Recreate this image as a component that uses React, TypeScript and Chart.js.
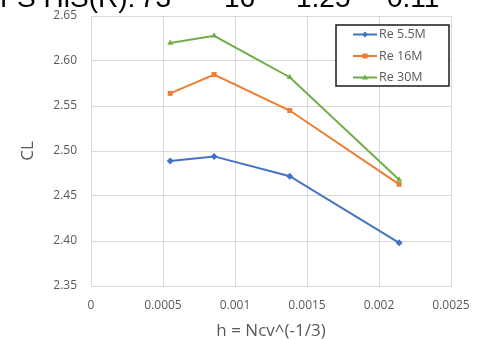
import React, { useEffect, useRef } from "react";
import { Chart, registerables } from "chart.js";

Chart.register(...registerables);

// ---- data ----
const hValues = [0.00055, 0.000855, 0.00138, 0.00214];
const seriesLabels = ["Re 5.5M", "Re 16M", "Re 30M"];
const re55 = [2.489, 2.494, 2.472, 2.398];
const re16 = [2.564, 2.585, 2.545, 2.463];
const re30 = [2.62, 2.628, 2.582, 2.468];
const xTicks = [0, 0.0005, 0.001, 0.0015, 0.002, 0.0025];
const yTicks = [2.35, 2.4, 2.45, 2.5, 2.55, 2.6, 2.65];
const xTitle = "h = Ncv^(-1/3)";
const yTitle = "CL";
const headerParts = ["FS HiS(R):", "73", "16", "1.25", "0.11"];
const headerLefts = [0, 140, 224, 296, 387];

const COLORS = ["#4472C4", "#ED7D31", "#70AD47"];
const MARKERS = ["rectRot", "rect", "triangle"];
const FONT = "'Open Sans', 'Noto Sans', sans-serif";
const TXT = "#595959";
const GRID = "#d9d9d9";

function drawMarker(ctx: CanvasRenderingContext2D, style: string, x: number, y: number, r: number) {
  ctx.beginPath();
  if (style === "rectRot") {
    ctx.moveTo(x, y - r);
    ctx.lineTo(x + r, y);
    ctx.lineTo(x, y + r);
    ctx.lineTo(x - r, y);
  } else if (style === "rect") {
    ctx.rect(x - r * 0.85, y - r * 0.85, r * 1.7, r * 1.7);
  } else {
    ctx.moveTo(x, y - r);
    ctx.lineTo(x + r, y + r * 0.7);
    ctx.lineTo(x - r, y + r * 0.7);
  }
  ctx.closePath();
  ctx.fill();
}

const legendBox = {
  id: "legendBox",
  afterDraw(chart: any) {
    const { ctx, chartArea } = chart;
    const w = 113;
    const h = 61;
    const x = chartArea.right - 2 - w;
    const y = chartArea.top + 9;
    ctx.save();
    ctx.fillStyle = "#ffffff";
    ctx.fillRect(x, y, w, h);
    ctx.strokeStyle = "#1a1a1a";
    ctx.lineWidth = 1.5;
    ctx.strokeRect(x, y, w, h);
    chart.data.datasets.forEach((ds: any, i: number) => {
      const cy = y + 9.5 + i * 21.5;
      ctx.strokeStyle = ds.borderColor;
      ctx.fillStyle = ds.borderColor;
      ctx.lineWidth = 2;
      ctx.beginPath();
      ctx.moveTo(x + 17, cy);
      ctx.lineTo(x + 41, cy);
      ctx.stroke();
      drawMarker(ctx, ds.pointStyle, x + 29, cy, 3);
      ctx.fillStyle = TXT;
      ctx.font = `12.5px ${FONT}`;
      ctx.textBaseline = "middle";
      ctx.textAlign = "left";
      ctx.fillText(ds.label, x + 43, cy);
    });
    ctx.restore();
  },
};

export default function App() {
  const ref = useRef<HTMLCanvasElement | null>(null);

  useEffect(() => {
    if (!ref.current) return;
    const seriesValues = [re55, re16, re30];
    const chart = new Chart(ref.current, {
      type: "scatter",
      data: {
        datasets: seriesValues.map((vals, i) => ({
          label: seriesLabels[i],
          data: vals.map((v, j) => ({ x: hValues[j], y: v })),
          showLine: true,
          borderColor: COLORS[i],
          backgroundColor: COLORS[i],
          borderWidth: 2,
          pointStyle: MARKERS[i] as any,
          pointRadius: 3.5,
          pointBorderWidth: 0,
          tension: 0,
        })),
      },
      options: {
        responsive: false,
        animation: false,
        devicePixelRatio: 1,
        layout: { padding: { left: 18, top: 16, right: 30, bottom: 0 } },
        plugins: {
          legend: { display: false },
          tooltip: { enabled: false },
          title: { display: false },
        },
        scales: {
          x: {
            type: "linear",
            position: "bottom",
            min: 0,
            max: 0.0025,
            afterBuildTicks: (s: any) => {
              s.ticks = xTicks.map((v) => ({ value: v }));
            },
            afterFit: (s: any) => {
              s.height = 53;
              s.paddingLeft = 0;
              s.paddingRight = 0;
            },
            grid: { color: GRID, drawTicks: false, lineWidth: 1 },
            border: { display: true, color: GRID },
            ticks: {
              padding: 12,
              color: TXT,
              font: { family: FONT, size: 12 },
              callback: (v: any) => String(Number(Number(v).toFixed(4))),
            },
            title: {
              display: true,
              text: xTitle,
              color: TXT,
              font: { family: FONT, size: 17 },
              padding: { top: 0, bottom: -2 },
            },
          },
          y: {
            type: "linear",
            min: 2.35,
            max: 2.65,
            afterBuildTicks: (s: any) => {
              s.ticks = yTicks.map((v) => ({ value: v }));
            },
            afterFit: (s: any) => {
              s.width = 73;
              s.paddingTop = 0;
              s.paddingBottom = 0;
            },
            grid: { color: GRID, drawTicks: false, lineWidth: 1 },
            border: { display: true, color: GRID },
            ticks: {
              padding: 14,
              color: TXT,
              font: { family: FONT, size: 12 },
              callback: (v: any) => Number(v).toFixed(2),
            },
            title: {
              display: true,
              text: yTitle,
              color: TXT,
              font: { family: FONT, size: 17 },
              padding: { top: 0, bottom: 0 },
            },
          },
        },
      },
      plugins: [legendBox],
    });
    return () => chart.destroy();
  }, []);

  return (
    <div
      style={{
        position: "fixed",
        left: 0,
        top: 0,
        width: 481,
        height: 339,
        background: "#ffffff",
        overflow: "hidden",
      }}
    >
      <canvas ref={ref} width={481} height={339} style={{ position: "absolute", left: 0, top: 0 }} />
      {headerParts.map((t, i) => (
        <div
          key={i}
          style={{
            position: "absolute",
            left: headerLefts[i],
            top: -16,
            fontFamily: "'Liberation Sans', Arial, sans-serif",
            fontSize: 28,
            lineHeight: "28px",
            color: "#000",
            whiteSpace: "pre",
          }}
        >
          {t}
        </div>
      ))}
    </div>
  );
}
